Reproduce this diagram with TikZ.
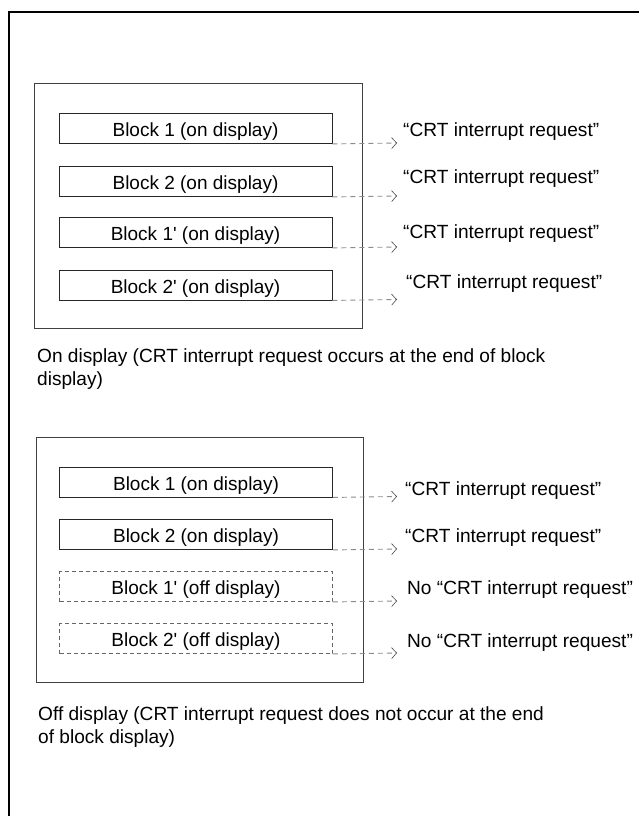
\documentclass[tikz,border=0pt]{standalone}
\usepackage{fontspec}
\setmainfont{Liberation Sans}
\usetikzlibrary{arrows.meta}
\begin{document}
\begin{tikzpicture}[x=1pt,y=-1pt,
  txt/.style={font=\fontsize{19.1}{22}\selectfont, inner sep=0pt},
  panel/.style={draw=black!75, line width=1.1pt, minimum width=328pt, minimum height=245pt, inner sep=0pt, anchor=north west},
  blockon/.style={draw=black!85, line width=0.9pt, minimum width=273pt, minimum height=30pt, inner sep=0pt, text height=16pt, text depth=0pt, font=\fontsize{19}{22}\selectfont},
  blockoff/.style={blockon, draw=black!60, dashed, dash pattern=on 4pt off 3pt},
  req/.style={draw=black!45, line width=0.9pt, dash pattern=on 5pt off 4pt,
    -{Straight Barb[length=5pt,width=11pt,line width=0.6pt,black!70]}},
  lbl/.style={txt, anchor=base west}
]
\useasboundingbox (0,0) rectangle (638,816);
% outer frame
\draw[line width=2pt] (9,817) -- (9,12) -- (639,12);

% ---------- upper panel ----------
\node[panel] (p1) at (34,83) {};
\node[blockon] (a1) at (195.5,128.5) {Block 1 (on display)};
\node[blockon] (a2) at (195.5,181.5) {Block 2 (on display)};
\node[blockon] (a3) at (195.5,232.5) {Block 1\textquotesingle{} (on display)};
\node[blockon] (a4) at (195.5,285) {Block 2\textquotesingle{} (on display)};
\coordinate (ta1) at (397,143);
\coordinate (ta2) at (397,196);
\coordinate (ta3) at (397,247);
\coordinate (ta4) at (397,299.5);
\draw[req] (a1.south east) -- (ta1);
\draw[req] (a2.south east) -- (ta2);
\draw[req] (a3.south east) -- (ta3);
\draw[req] (a4.south east) -- (ta4);
\node[lbl] (la1) at (403,136) {“CRT interrupt request”};
\node[lbl] (la2) at (403,183) {“CRT interrupt request”};
\node[lbl] (la3) at (403,238) {“CRT interrupt request”};
\node[lbl] (la4) at (406,288) {“CRT interrupt request”};
\node[lbl] (ca1) at (37,362) {On display (CRT interrupt request occurs at the end of block};
\node[lbl] (ca2) at (37,385) {display)};

% ---------- lower panel ----------
\node[panel, minimum width=327pt] (p2) at (36,437) {};
\node[blockon] (b1) at (196,482) {Block 1 (on display)};
\node[blockon] (b2) at (196,534.5) {Block 2 (on display)};
\node[blockoff] (b3) at (196,586.5) {Block 1\textquotesingle{} (off display)};
\node[blockoff] (b4) at (196,638.5) {Block 2\textquotesingle{} (off display)};
\coordinate (tb1) at (397,496.5);
\coordinate (tb2) at (397,549);
\coordinate (tb3) at (397,601);
\coordinate (tb4) at (397,653);
\draw[req] (b1.south east) -- (tb1);
\draw[req] (b2.south east) -- (tb2);
\draw[req] (b3.south east) -- (tb3);
\draw[req] (b4.south east) -- (tb4);
\node[lbl] (lb1) at (405,495) {“CRT interrupt request”};
\node[lbl] (lb2) at (405,542) {“CRT interrupt request”};
\node[lbl] (lb3) at (407,594) {No “CRT interrupt request”};
\node[lbl] (lb4) at (407,647) {No “CRT interrupt request”};
\node[lbl] (cb1) at (38,720) {Off display (CRT interrupt request does not occur at the end};
\node[lbl] (cb2) at (38,743) {of block display)};
\end{tikzpicture}
\end{document}
